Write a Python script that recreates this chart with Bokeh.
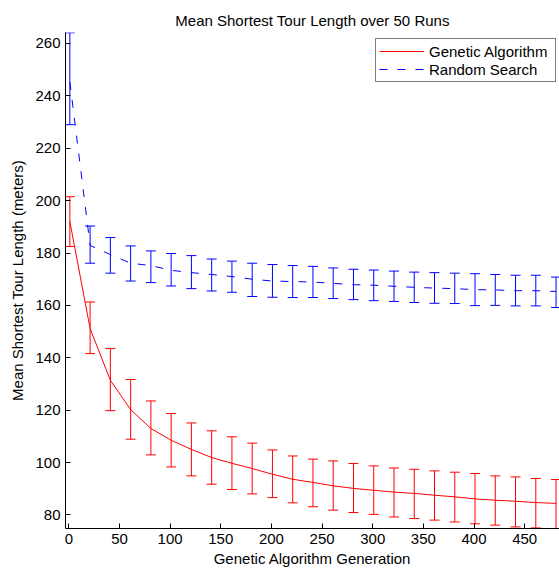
from bokeh.plotting import figure
from bokeh.models import (ColumnDataSource, Whisker, TeeHead, FixedTicker, Range1d,
                          Legend, LegendItem)
from bokeh.embed import file_html
from bokeh.resources import INLINE

# ---- data ----
generations = [1, 21, 41, 61, 81, 101, 121, 141, 161, 181, 201, 221, 241,
               261, 281, 301, 321, 341, 361, 381, 401, 421, 441, 461, 481]

ga_mean = [192.0, 151.1, 131.4, 120.2, 113.0, 108.5, 105.0, 101.9, 99.7, 97.7,
           95.5, 93.6, 92.4, 91.1, 90.1, 89.4, 88.7, 88.2, 87.5, 86.9,
           86.1, 85.6, 85.2, 84.7, 84.4]
ga_upper = [201.5, 161.3, 143.5, 131.7, 123.5, 118.7, 115.1, 112.1, 109.8, 107.4,
            104.8, 102.5, 101.3, 100.6, 99.6, 98.7, 97.9, 97.4, 96.8, 96.3,
            95.8, 94.9, 94.5, 93.9, 93.5]
ga_lower = [182.5, 141.6, 119.8, 108.9, 102.9, 98.3, 94.9, 91.7, 89.7, 88.0,
            86.6, 84.6, 83.1, 81.8, 80.9, 80.2, 79.2, 78.6, 78.0, 77.3,
            76.6, 76.1, 75.4, 75.0, 74.0]

rs_mean = [245.3, 182.9, 179.4, 176.1, 175.2, 173.4, 172.5, 171.8, 171.0, 170.0,
           169.3, 169.1, 168.9, 168.4, 167.9, 167.7, 167.3, 166.9, 166.6, 166.4,
           166.0, 165.9, 165.6, 165.6, 165.3]
rs_upper = [264.1, 190.3, 185.9, 182.7, 180.8, 179.8, 179.0, 177.7, 176.9, 176.1,
            175.6, 175.2, 174.9, 174.3, 173.8, 173.5, 173.1, 172.7, 172.5, 172.3,
            172.1, 171.8, 171.5, 171.5, 170.8]
rs_lower = [229.0, 176.1, 172.3, 169.3, 168.7, 167.4, 166.4, 165.5, 165.0, 163.4,
            163.1, 163.0, 163.0, 162.6, 162.2, 161.8, 161.5, 161.1, 160.8, 160.7,
            159.9, 160.0, 159.8, 159.8, 159.2]

x_ticks = [0, 50, 100, 150, 200, 250, 300, 350, 400, 450]
y_ticks = [80, 100, 120, 140, 160, 180, 200, 220, 240, 260]

FONT = "Liberation Sans"
RED = "#ff0000"
BLUE = "#0000ff"

ga_src = ColumnDataSource(dict(x=generations, y=ga_mean, upper=ga_upper, lower=ga_lower))
rs_src = ColumnDataSource(dict(x=generations, y=rs_mean, upper=rs_upper, lower=rs_lower))

p = figure(width=559, height=571, output_backend="svg", toolbar_location=None,
           x_range=Range1d(-3.3, 484.4), y_range=Range1d(74.8, 264.2),
           min_border_left=65, min_border_right=0, min_border_top=32, min_border_bottom=43,
           title="Mean Shortest Tour Length over 50 Runs")

p.title.text_font = FONT
p.title.text_font_size = "15px"
p.title.text_font_style = "normal"
p.title.text_color = "black"
p.title.align = "center"
p.title.standoff = 8

p.outline_line_color = None
p.xgrid.visible = False
p.ygrid.visible = False
p.background_fill_color = "white"
p.border_fill_color = "white"

for ax in (p.xaxis[0], p.yaxis[0]):
    ax.axis_line_color = "black"
    ax.axis_line_width = 1
    ax.major_tick_in = 5
    ax.major_tick_out = 0
    ax.major_tick_line_color = "black"
    ax.minor_tick_line_color = None
    ax.major_label_text_font = FONT
    ax.major_label_text_font_size = "15px"
    ax.major_label_text_color = "black"
    ax.axis_label_text_font = FONT
    ax.axis_label_text_font_size = "15px"
    ax.axis_label_text_font_style = "normal"
    ax.axis_label_text_color = "black"

p.xaxis.ticker = FixedTicker(ticks=x_ticks)
p.yaxis.ticker = FixedTicker(ticks=y_ticks)
p.xaxis.axis_label = "Genetic Algorithm Generation"
p.yaxis.axis_label = "Mean Shortest Tour Length (meters)"
p.xaxis.major_label_standoff = 5
p.xaxis.axis_label_standoff = 3
p.yaxis.major_label_standoff = 5
p.yaxis.axis_label_standoff = 6

ga_line = p.line("x", "y", source=ga_src, line_color=RED, line_width=1)
rs_line = p.line("x", "y", source=rs_src, line_color=BLUE, line_width=1, line_dash="8 10")

for src, col in ((ga_src, RED), (rs_src, BLUE)):
    w = Whisker(source=src, base="x", upper="upper", lower="lower",
                line_color=col, line_width=1,
                upper_head=TeeHead(size=10, line_color=col, line_width=1),
                lower_head=TeeHead(size=10, line_color=col, line_width=1))
    p.add_layout(w)

legend = Legend(items=[LegendItem(label="Genetic Algorithm", renderers=[ga_line]),
                       LegendItem(label="Random Search", renderers=[rs_line])],
                location=(310, 446), margin=0, padding=3, spacing=0,
                glyph_width=45, glyph_height=18, label_height=18, label_width=123,
                label_standoff=5, label_text_font=FONT, label_text_font_size="15px",
                label_text_color="black", border_line_color="black", border_line_width=1,
                background_fill_color="white", background_fill_alpha=1.0)
p.add_layout(legend)

open("out.html", "w").write(file_html(p, INLINE))
